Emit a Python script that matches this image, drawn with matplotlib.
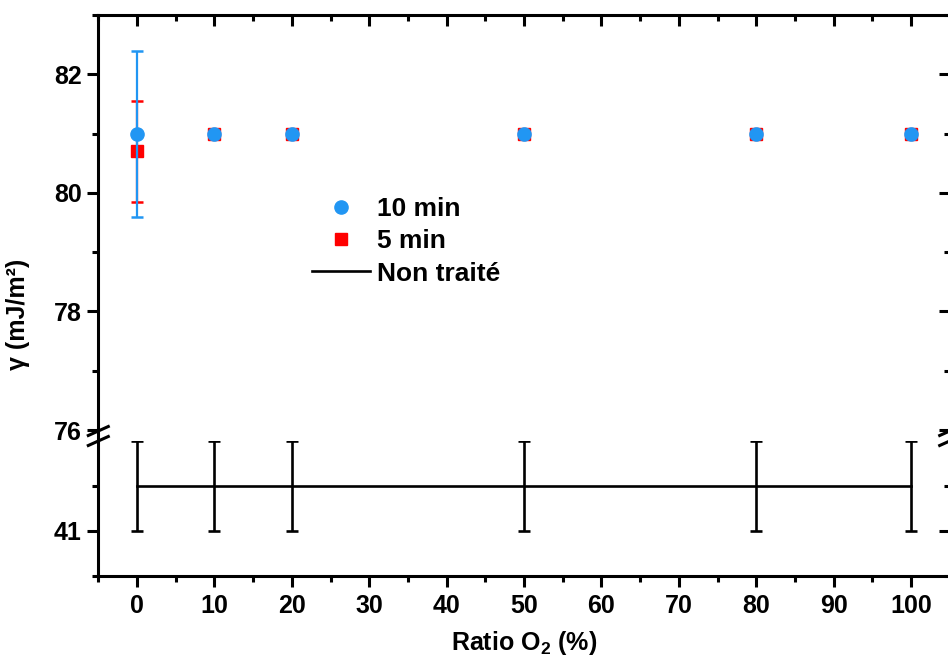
import matplotlib
matplotlib.use('Agg')
import matplotlib.pyplot as plt
from matplotlib.lines import Line2D
from matplotlib.ticker import MultipleLocator, FixedLocator

plt.rcParams['font.family'] = ['Liberation Sans', 'DejaVu Sans']
plt.rcParams['font.weight'] = 'bold'
plt.rcParams['mathtext.fontset'] = 'custom'
plt.rcParams['mathtext.rm'] = 'Liberation Sans:bold'
plt.rcParams['mathtext.it'] = 'Liberation Sans:bold'
plt.rcParams['mathtext.bf'] = 'Liberation Sans:bold'

# data
ratio = [0, 10, 20, 50, 80, 100]
gamma_10min = [81.0, 81.0, 81.0, 81.0, 81.0, 81.0]
err_10min = [1.4, 0, 0, 0, 0, 0]
gamma_5min = [80.7, 81.0, 81.0, 81.0, 81.0, 81.0]
err_5min = [0.85, 0, 0, 0, 0, 0]
gamma_untreated = [41.5, 41.5, 41.5, 41.5, 41.5, 41.5]
err_untreated = [0.5, 0.5, 0.5, 0.5, 0.5, 0.5]

BLUE = '#2196f3'
RED = '#ff0000'
W_PX, H_PX = 948, 657
LW = 2.2
TICK_FS = 18


def fx(px):
    return px / W_PX


def fy(py):
    return 1 - py / H_PX


def style_axes(ax, ylim, major, minor):
    """
    common look of both segments of the broken axis
    """
    ax.set_xlim(-5, 105)
    ax.set_ylim(*ylim)
    ax.xaxis.set_major_locator(MultipleLocator(10))
    ax.xaxis.set_minor_locator(MultipleLocator(5))
    ax.yaxis.set_major_locator(FixedLocator(major))
    ax.yaxis.set_minor_locator(FixedLocator(minor))
    for spine in ax.spines.values():
        spine.set_linewidth(LW)
    ax.tick_params(axis='y', which='both', direction='out', left=True, right=False,
                   width=LW, labelsize=TICK_FS, pad=4)
    ax.tick_params(axis='y', which='major', length=8)
    ax.tick_params(axis='y', which='minor', length=4)
    # inward ticks on the right side
    twin = ax.twinx()
    twin.set_ylim(*ylim)
    twin.yaxis.set_major_locator(FixedLocator(major))
    twin.yaxis.set_minor_locator(FixedLocator(minor))
    for spine in twin.spines.values():
        spine.set_visible(False)
    twin.tick_params(axis='y', which='both', direction='in', right=True, labelright=False,
                     width=LW)
    twin.tick_params(axis='y', which='major', length=8)
    twin.tick_params(axis='y', which='minor', length=4)
    return twin


fig = plt.figure(figsize=(9.48, 6.57), dpi=100)
x_left, x_right = 98.3, 949.7
ax_top = fig.add_axes([fx(x_left), fy(430), fx(x_right - x_left), (430 - 15) / H_PX])
ax_low = fig.add_axes([fx(x_left), fy(576), fx(x_right - x_left), (576 - 441) / H_PX])

style_axes(ax_top, (76, 83), [76, 78, 80, 82], [77, 79, 81, 83])
style_axes(ax_low, (40.5, 42), [41], [40.5, 41.5])

ax_top.spines['bottom'].set_visible(False)
ax_top.tick_params(axis='x', which='both', bottom=False, top=True, direction='in',
                   labelbottom=False, width=LW)
ax_top.tick_params(axis='x', which='major', length=8)
ax_top.tick_params(axis='x', which='minor', length=4)

ax_low.spines['top'].set_visible(False)
ax_low.tick_params(axis='x', which='both', bottom=True, top=False, direction='out',
                   width=LW, labelsize=TICK_FS, pad=5)
ax_low.tick_params(axis='x', which='major', length=8)
ax_low.tick_params(axis='x', which='minor', length=4)

# treated samples
ax_top.errorbar(ratio, gamma_5min, yerr=err_5min, fmt='s', color=RED, ms=8,
                ecolor=RED, elinewidth=1.6, capsize=4, capthick=1.8, zorder=3)
ax_top.errorbar(ratio, gamma_10min, yerr=err_10min, fmt='o', color=BLUE, ms=9.5,
                ecolor=BLUE, elinewidth=1.6, capsize=4, capthick=1.8, zorder=4)

# untreated reference
ax_low.errorbar(ratio, gamma_untreated, yerr=err_untreated, fmt='-', color='black',
                lw=1.9, elinewidth=1.9, capsize=4, capthick=1.9)

ax_low.set_xlabel('Ratio O$_2$ (%)', fontsize=18, fontweight='bold', labelpad=8)
fig.text(fx(18), fy(314), 'γ (mJ/m²)', rotation=90, fontsize=18, fontweight='bold',
         ha='center', va='center')

# break marks and the spine across the gap
for x0 in (x_left, x_right):
    fig.add_artist(Line2D([fx(x0), fx(x0)], [fy(430), fy(441)], transform=fig.transFigure,
                          color='black', lw=LW))
    for yc in (431, 441):
        fig.add_artist(Line2D([fx(x0 - 10), fx(x0 + 10)], [fy(yc + 4.5), fy(yc - 4.5)],
                              transform=fig.transFigure, color='black', lw=LW))

handles = [
    Line2D([], [], marker='o', color=BLUE, ls='none', ms=9.5),
    Line2D([], [], marker='s', color=RED, ls='none', ms=8),
    Line2D([], [], color='black', lw=1.9),
]
fig.legend(handles, ['10 min', '5 min', 'Non traité'], loc='upper left',
           bbox_to_anchor=(fx(288), fy(173)), frameon=False, fontsize=19,
           handlelength=2.2, handletextpad=0.27, labelspacing=0.32)

fig.savefig('out.png', dpi=100)
